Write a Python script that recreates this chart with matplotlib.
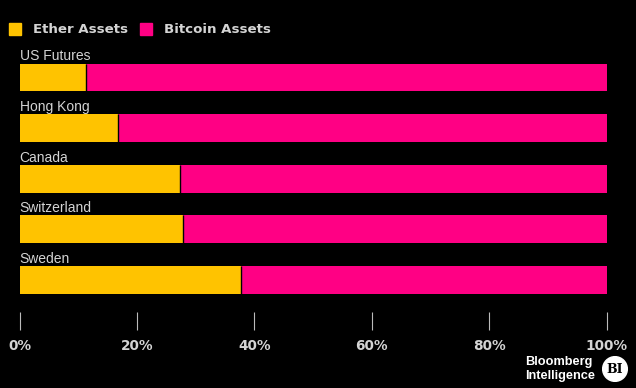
import matplotlib.pyplot as plt
from matplotlib.patches import Circle, Rectangle

# data (share of assets, %)
regions = ["US Futures", "Hong Kong", "Canada", "Switzerland", "Sweden"]
ether = [11.3, 16.7, 27.3, 27.9, 37.8]
bitcoin = [100 - e for e in ether]
ticks = [0, 20, 40, 60, 80, 100]
tick_labels = ["0%", "20%", "40%", "60%", "80%", "100%"]

yellow = "#FFC300"
pink = "#FF0084"
grey = "#d4d4d4"
font = "Liberation Sans"
bold_font = "DejaVu Sans"

fig = plt.figure(figsize=(6.36, 3.88), dpi=100, facecolor="black")
ax = fig.add_axes([19.5 / 636, 76 / 388, 587 / 636, 272 / 388])
ax.set_facecolor("black")

pos = list(range(len(regions)))
h = 0.553
ax.barh(pos, ether, height=h, color=yellow, linewidth=0)
ax.barh(pos, bitcoin, left=ether, height=h, color=pink, linewidth=0)
# thin black seam between the two parts
ax.vlines(ether, [p - h / 2 for p in pos], [p + h / 2 for p in pos],
          color="black", linewidth=1)

for i, name in enumerate(regions):
    ax.text(0, i - h / 2 - 0.06, name, color=grey, fontsize=10,
            family=font, va="baseline", ha="left")

ax.set_xlim(0, 100)
ax.set_ylim(4.634, -0.741)
ax.set_yticks([])
ax.set_xticks(ticks)
ax.set_xticklabels(tick_labels, family=bold_font, fontweight="bold", fontsize=9.8, color=grey)
ax.tick_params(axis="x", length=13, width=0.8, color="#bbbbbb", pad=6.5)
for s in ax.spines.values():
    s.set_visible(False)

# legend drawn by hand at the top
fig.patches.append(Rectangle((9 / 636, 1 - 34.5 / 388), 12 / 636, 12 / 388,
                             transform=fig.transFigure, color=yellow))
fig.text(33 / 636, 1 - 29.5 / 388, "Ether Assets", color=grey, fontsize=9.6,
         fontweight="bold", family=bold_font, va="center")
fig.patches.append(Rectangle((140 / 636, 1 - 34.5 / 388), 12 / 636, 12 / 388,
                             transform=fig.transFigure, color=pink))
fig.text(164 / 636, 1 - 29.5 / 388, "Bitcoin Assets", color=grey, fontsize=9.6,
         fontweight="bold", family=bold_font, va="center")

# Bloomberg Intelligence logo
fig.text(525 / 636, 1 - 362 / 388, "Bloomberg", color="white", fontsize=9.2,
         fontweight="bold", family=font, va="center")
fig.text(525 / 636, 1 - 376 / 388, "Intelligence", color="white", fontsize=9.2,
         fontweight="bold", family=font, va="center")
logo = fig.add_axes([602 / 636, 1 - 382 / 388, 26 / 636, 26 / 388])
logo.set_xlim(-1, 1)
logo.set_ylim(-1, 1)
logo.axis("off")
logo.add_patch(Circle((0, 0), 0.95, color="white"))
logo.text(0, -0.05, "BI", color="black", fontsize=9, fontweight="bold",
          family="DejaVu Serif", ha="center", va="center")

fig.savefig("out.png", dpi=100, facecolor="black")
